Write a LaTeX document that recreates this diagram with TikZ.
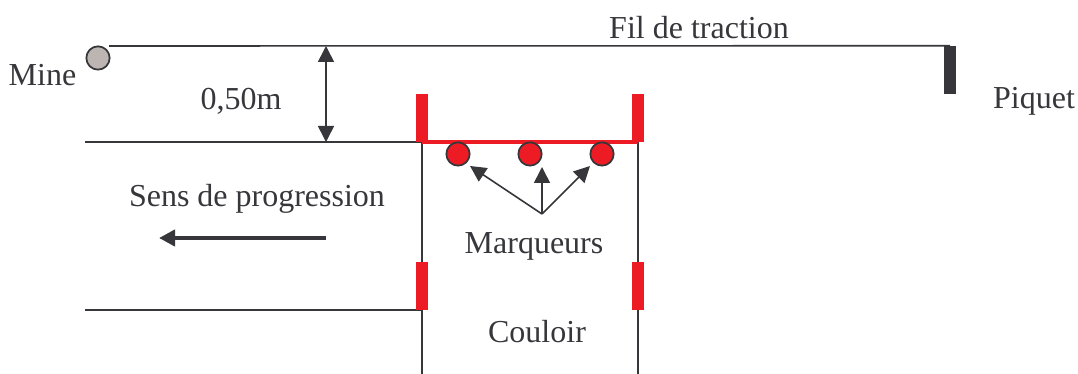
\documentclass[tikz,border=0pt]{standalone}
\usepackage{fontspec}
\setmainfont{Liberation Serif}
\usepackage{xcolor}
\definecolor{colorLine}{HTML}{36363B}
\definecolor{colorPost}{HTML}{ED1C24}
\definecolor{colorMine}{HTML}{BDB5B2}
\usetikzlibrary{arrows.meta}
\tikzset{
  label/.style={text=colorLine, inner sep=0pt, anchor=base, font=\fontsize{24}{28}\selectfont},
  post/.style={rectangle, draw=none, fill=colorPost, minimum width=9pt, minimum height=36pt, inner sep=0pt},
  picket/.style={post, fill=colorLine},
  marker/.style={circle, draw=colorLine, line width=1.3pt, fill=colorPost, minimum size=17.5pt, inner sep=0pt},
  mine/.style={marker, fill=colorMine},
  wire/.style={draw=colorLine, line width=1.2pt},
}
\begin{document}
\begin{tikzpicture}[x=0.75pt, y=-0.75pt, >={Triangle[length=12pt, width=12pt]}]
\useasboundingbox (0,0) rectangle (1078,374);
\coordinate (wireStart) at (109,46);
\coordinate (trackA) at (85,142);
\coordinate (trackB) at (85,310);
\coordinate (laneLeftEnd) at (422,374);
\coordinate (laneRightEnd) at (638,374);
\coordinate (gapTop) at (326,46);
\coordinate (gapBottom) at (326,142);
\coordinate (dirStart) at (326,238);
\coordinate (dirEnd) at (159,238);
\coordinate (fork) at (542,214);
\coordinate (barLeft) at (422,142);
\coordinate (barRight) at (638,142);
\coordinate (laneMidLeft) at (422,310);
\coordinate (m1tip) at (470,166);
\coordinate (m2tip) at (542,167);
\coordinate (m3tip) at (590,166);

\node[picket] (piquet) at (950,70) {};
\draw[wire] (wireStart) -- (piquet.north);
\draw[wire] (trackA) -- (barLeft);
\draw[wire] (trackB) -- (laneMidLeft);
\draw[wire] (barLeft) -- (laneLeftEnd);
\draw[wire] (barRight) -- (laneRightEnd);
\draw[colorPost, line width=3pt] (barLeft) -- (barRight);

\node[mine] (mine) at (98,58) {};
\node[post] (postA) at (422,118) {};
\node[post] (postB) at (638,118) {};
\node[post] (postC) at (422,286) {};
\node[post] (postD) at (638,286) {};
\node[marker] (m1) at (458,154) {};
\node[marker] (m2) at (530,154) {};
\node[marker] (m3) at (602,154) {};

\node[label] (lblFil) at (699,39) {Fil de traction};
\node[label] (lblMine) at (42.5,86) {Mine};
\node[label] (lblGap) at (241,110) {0,50m};
\node[label] (lblPiquet) at (1034,109) {Piquet};
\node[label] (lblSens) at (257,206) {Sens de progression};
\node[label] (lblMarq) at (534,253) {Marqueurs};
\node[label] (lblCoul) at (537,342) {Couloir};

\draw[wire, <->] (gapTop) -- (gapBottom);
\draw[draw=colorLine, line width=3pt, ->] (dirStart) -- (dirEnd);
\draw[wire, ->] (fork) -- (m1tip);
\draw[wire, ->] (fork) -- (m2tip);
\draw[wire, ->] (fork) -- (m3tip);
\end{tikzpicture}
\end{document}
